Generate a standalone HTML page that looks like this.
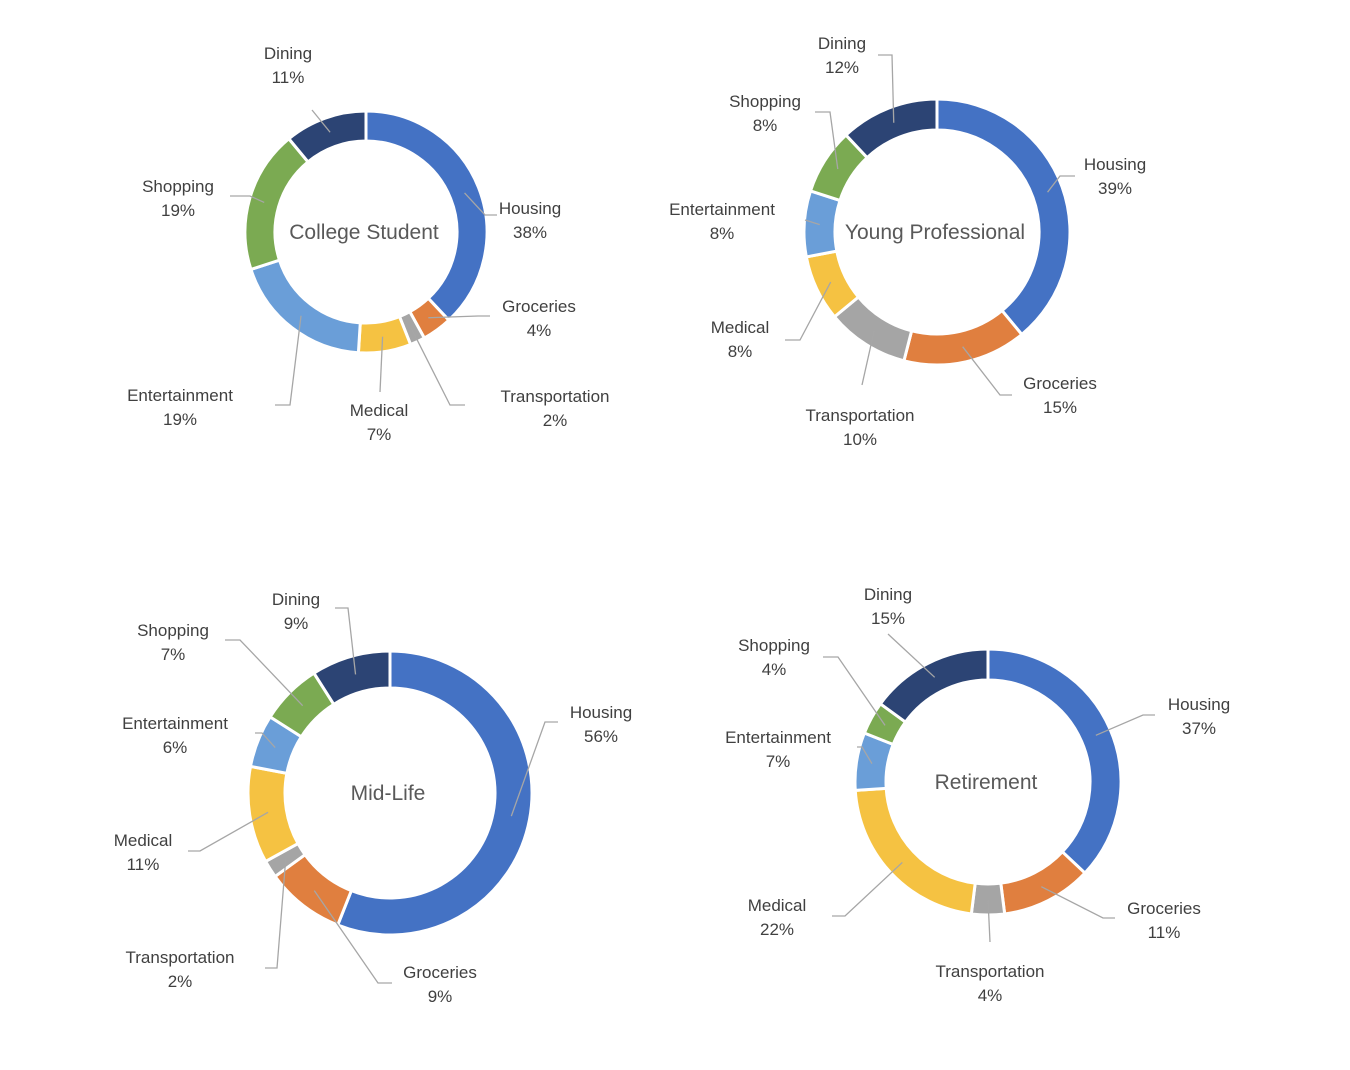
<!DOCTYPE html>
<html><head><meta charset="utf-8">
<style>
html,body{margin:0;padding:0;background:#fff;}
svg{display:block;font-family:"Liberation Sans",sans-serif;}
.lbl{font-size:17px;fill:#404040;text-anchor:middle;}
.ttl{font-size:21px;fill:#595959;text-anchor:middle;}
</style></head>
<body>
<svg id="chart" width="1350" height="1070" viewBox="0 0 1350 1070"></svg>
<script>
const categories = ["Housing","Groceries","Transportation","Medical","Entertainment","Shopping","Dining"];
const titles = ["College Student","Young Professional","Mid-Life","Retirement"];
const collegeValues = [38,4,2,7,19,19,11];
const youngValues = [39,15,10,8,8,8,12];
const midlifeValues = [56,9,2,11,6,7,9];
const retireValues = [37,11,4,22,7,4,15];
const seriesValues = [collegeValues, youngValues, midlifeValues, retireValues];

const colors = ["#4472C4","#E07F3F","#A5A5A5","#F5C242","#6A9ED8","#7BAA52","#2C4474"];
const geom = [
  {cx:366,cy:232,R:121,r:91},
  {cx:937,cy:232,R:133,r:102},
  {cx:390,cy:793,R:142,r:105},
  {cx:988,cy:782,R:133,r:102}
];
// label layout: [textX, textY, elbowX, elbowY, endX]
const layouts = [
  [[530,208,485,215,497],[539,306,478,316,490],[555,396,450,405,465],[379,410,380,392,380],[180,395,290,405,275],[178,186,250,196,230],[288,53,312,110,312]],
  [[1115,164,1060,176,1075],[1060,383,1000,395,1012],[860,415,862,385,862],[740,327,800,340,785],[722,209,805,220,805],[765,101,830,112,815],[842,43,892,55,878]],
  [[601,712,545,722,558],[440,972,378,983,392],[180,957,277,968,265],[143,840,200,851,188],[175,723,262,733,255],[173,630,240,640,225],[296,599,348,608,335]],
  [[1199,704,1143,715,1155],[1164,908,1103,918,1115],[990,971,990,942,990],[777,905,845,916,832],[778,737,862,747,857],[774,645,838,657,823],[888,594,888,634,888]]
];
const NS="http://www.w3.org/2000/svg";
const svg=document.getElementById('chart');
function mk(tag,attrs){const e=document.createElementNS(NS,tag);for(const k in attrs)e.setAttribute(k,attrs[k]);return e;}
function pt(cx,cy,rad,a){return [cx+rad*Math.sin(a), cy-rad*Math.cos(a)];}

seriesValues.forEach((vals,ci)=>{
  const g=geom[ci];
  const total=vals.reduce((a,b)=>a+b,0);
  const grp=mk('g',{});
  
  
  svg.appendChild(grp);
  let acc=0;
  vals.forEach((v,i)=>{
    const a0=acc/total*2*Math.PI, a1=(acc+v)/total*2*Math.PI; acc+=v;
    const large=(a1-a0)>Math.PI?1:0;
    const p0=pt(g.cx,g.cy,g.R,a0),p1=pt(g.cx,g.cy,g.R,a1),q1=pt(g.cx,g.cy,g.r,a1),q0=pt(g.cx,g.cy,g.r,a0);
    const d=`M${p0[0]},${p0[1]} A${g.R},${g.R} 0 ${large} 1 ${p1[0]},${p1[1]} L${q1[0]},${q1[1]} A${g.r},${g.r} 0 ${large} 0 ${q0[0]},${q0[1]} Z`;
    const path=mk('path',{d:d,fill:colors[i],stroke:'#fff','stroke-width':3,'stroke-linejoin':'miter'});
    
    
    grp.appendChild(path);
    // leader
    const L=layouts[ci][i];
    const am=(a0+a1)/2;
    const m=pt(g.cx,g.cy,(g.R+g.r)/2,am);
    const line=mk('polyline',{points:`${m[0]},${m[1]} ${L[2]},${L[3]} ${L[4]},${L[3]}`,fill:'none',stroke:'#A6A6A6','stroke-width':1.3});
    
    
    grp.appendChild(line);
    const t=mk('text',{x:L[0],y:L[1]+6,class:'lbl'});
    
    
    const s1=mk('tspan',{x:L[0]}); s1.textContent=categories[i];
    const s2=mk('tspan',{x:L[0],dy:24}); s2.textContent=Math.round(v/total*100)+'%';
    t.appendChild(s1);t.appendChild(s2);
    grp.appendChild(t);
  });
  const tt=mk('text',{x:g.cx-2,y:g.cy+7,class:'ttl'});
  
  
  tt.textContent=titles[ci];
  grp.appendChild(tt);
});
</script>
</body></html>
